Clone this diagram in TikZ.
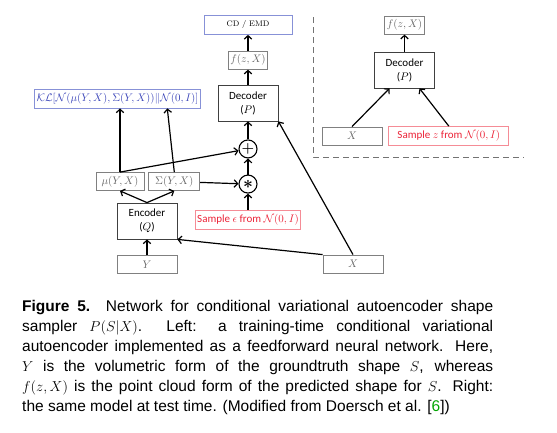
\documentclass[tikz,border=0pt]{standalone}
\usepackage{fontspec}
\usepackage{amsmath,amssymb}
\newfontfamily\calibri{Carlito}
\newfontfamily\arial{Liberation Sans}
\usetikzlibrary{positioning,arrows.meta}
\definecolor{klblue}{RGB}{60,70,185}
\definecolor{boxblue}{RGB}{135,145,215}
\definecolor{smpred}{RGB}{235,35,55}
\definecolor{boxred}{RGB}{245,140,150}
\definecolor{refgreen}{RGB}{0,165,0}

\tikzset{
  >={Straight Barb[length=3.5pt,width=7.5pt]},
  net/.style={draw=black!75, line width=0.8pt, minimum width=60pt, minimum height=36pt,
    inner sep=1pt, align=center, font=\calibri\fontsize{11}{14}\selectfont},
  var/.style={draw=black!50, line width=0.8pt, minimum height=18pt, inner sep=2pt,
    text=black!60, font=\fontsize{11}{13}\selectfont},
  inp/.style={var, minimum width=60pt},
  loss/.style={draw=boxblue, line width=0.8pt, minimum height=19pt, inner sep=2pt},
  smp/.style={draw=boxred, line width=0.8pt, minimum height=19pt, inner sep=2pt,
    text=smpred, font=\calibri\fontsize{11}{13}\selectfont},
  op/.style={circle, draw, line width=1.1pt, minimum size=18pt, inner sep=0pt},
  flow/.style={->, line width=1.2pt},
}

\begin{document}
\begin{tikzpicture}[x=1pt, y=-1pt]
  \useasboundingbox (0,0) rectangle (557,432);

  % training time (left)
  \node[net] (dec) at (248,103) {Decoder\\($P$)};
  \node[var, above=15pt of dec] (fzx) {$f(z,X)$};
  \node[loss, minimum width=88pt, above=16pt of fzx, font=\fontsize{8}{10}\selectfont] (cd) {CD / EMD};
  \node[loss, text=klblue, font=\fontsize{11}{13}\selectfont] (kl) at (117.5,98.5)
    {$\mathcal{KL}[\mathcal{N}(\mu(Y,X),\Sigma(Y,X))\|\mathcal{N}(0,I)]$};
  \node[op, below=18pt of dec] (plus) {\Large$\boldsymbol{+}$};
  \node[op, below=16pt of plus] (star) {\LARGE$\boldsymbol{\ast}$};
  \node[smp, below=16pt of star] (eps) {Sample $\epsilon$ from $\mathcal{N}(0,I)$};
  \node[var, minimum width=48pt] (mu) at (120,181.5) {$\mu(Y,X)$};
  \node[var, minimum width=51pt, right=4pt of mu] (sig) {$\Sigma(Y,X)$};
  \node[net] (enc) at (147,221) {Encoder\\($Q$)};
  \node[inp, below=16pt of enc] (y) {$Y$};
  \node[inp] (x) at (353,264) {$X$};

  \draw[flow] (dec) -- (fzx);
  \draw[flow] (fzx) -- (cd);
  \draw[flow] (plus) -- (dec);
  \draw[flow] (star) -- (plus);
  \draw[flow] (eps) -- (star);
  \draw[flow] (sig) -- (star);
  \draw[flow] (mu.north) -- (plus);
  \draw[flow] (mu.north) -- (mu.north |- kl.south);
  \draw[flow] (sig.north) -- ([xshift=-7pt]sig.north |- kl.south);
  \draw[flow] (enc.north) -- (mu.south);
  \draw[flow] (enc.north) -- (sig.south);
  \draw[flow] (y) -- (enc);
  \draw[flow] (x.north west) -- (enc.south east);
  \draw[flow] (x.north) -- (dec.south east);

  % test time (right)
  \draw[black!55, line width=1pt, dash pattern=on 6pt off 4pt] (313,17) |- (524,157);
  \node[net] (dec2) at (404.5,70) {Decoder\\($P$)};
  \node[var, above=17pt of dec2] (fzx2) {$f(z,X)$};
  \node[inp] (x2) at (352,136) {$X$};
  \node[smp, minimum width=120pt, right=6pt of x2] (zsmp) {Sample $z$ from $\mathcal{N}(0,I)$};

  \draw[flow] (dec2) -- (fzx2);
  \draw[flow] (x2.north) -- ([xshift=-15pt]dec2.south);
  \draw[flow] (zsmp.north) -- ([xshift=15pt]dec2.south);

  % caption
  \node[anchor=base west, text width=471pt, align=justify, inner sep=0pt,
    font=\arial\fontsize{15.5}{20}\selectfont] (cap) at (22,311)
    {\textbf{Figure 5.}\ \ Network for conditional variational autoencoder shape\linebreak
     sampler $P(S|X)$.\ \ Left: a training-time conditional variational\linebreak
     autoencoder implemented as a feedforward neural network. Here,\linebreak
     $Y$ is the volumetric form of the groundtruth shape $S$, whereas\linebreak
     $f(z,X)$ is the point cloud form of the predicted shape for $S$. Right:\linebreak
     the same model at test time. (Modified from Doersch et al. [{\color{refgreen}6}])};
\end{tikzpicture}
\end{document}
